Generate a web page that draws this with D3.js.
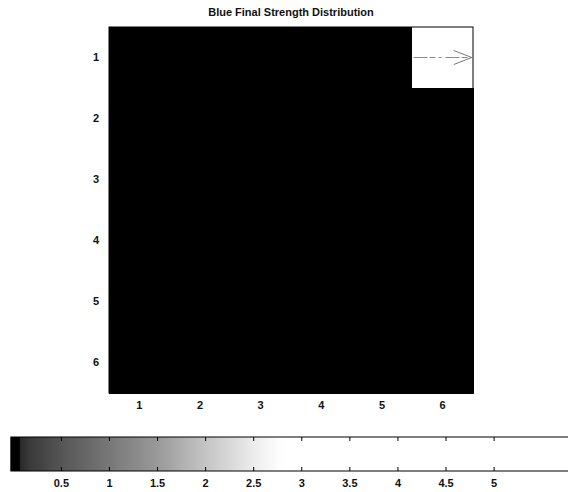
<!DOCTYPE html>
<html>
<head>
<meta charset="utf-8">
<script src="https://d3js.org/d3.v7.min.js"></script>
<style>
  body { margin: 0; background: #fff; }
  text { font-family: "Liberation Sans", Arial, sans-serif; font-weight: bold; fill: #111; }
</style>
</head>
<body>
<div id="canvas"></div>
<script>
// grid labels
var rows = [1, 2, 3, 4, 5, 6];
var cols = [1, 2, 3, 4, 5, 6];
// strength values per row (row 1 first), one per column
var row1 = [0, 0, 0, 0, 0, 5.8];
var row2 = [0, 0, 0, 0, 0, 0];
var row3 = [0, 0, 0, 0, 0, 0];
var row4 = [0, 0, 0, 0, 0, 0];
var row5 = [0, 0, 0, 0, 0, 0];
var row6 = [0, 0, 0, 0, 0, 0];
var values = [row1, row2, row3, row4, row5, row6];
// flow arrow in the strong cell: start and end (column, row)
var arrowFrom = [5.52, 1];
var arrowTo = [6.48, 1];
// colorbar ticks
var cbTicks = [0.5, 1, 1.5, 2, 2.5, 3, 3.5, 4, 4.5, 5];
var cbMin = -0.02, cbMax = 6;

var W = 568, H = 492;
var svg = d3.select("#canvas").append("svg")
    .attr("width", W).attr("height", H);

var x = d3.scaleBand().domain(cols).range([109, 473]);
var y = d3.scaleBand().domain(rows).range([27, 393]);
var xc = d3.scaleLinear().domain([0.5, 6.5]).range([109, 473]);
var yc = d3.scaleLinear().domain([0.5, 6.5]).range([27, 393]);

// gray map, saturates to white around 2.8 (as in the scan)
var color = d3.scaleLinear()
    .domain([0, 0.1, 0.5, 1, 1.5, 2, 2.5, 2.8, 6])
    .range(["#000", "#333", "#555", "#777", "#999", "#c4c4c4", "#ececec", "#fff", "#fff"])
    .clamp(true);

svg.append("text")
    .attr("x", 291).attr("y", 16)
    .attr("text-anchor", "middle")
    .style("font-size", "11px")
    .text("Blue Final Strength Distribution");

var cells = [];
values.forEach(function(r, i) {
    r.forEach(function(v, j) { cells.push({ row: rows[i], col: cols[j], v: v }); });
});

svg.append("g").attr("shape-rendering", "crispEdges").selectAll("rect")
    .data(cells).enter().append("rect")
    .attr("x", function(d) { return x(d.col); })
    .attr("y", function(d) { return y(d.row); })
    .attr("width", x.bandwidth() + 1)
    .attr("height", y.bandwidth() + 1)
    .attr("fill", function(d) { return color(d.v); });

svg.append("rect")
    .attr("x", 109).attr("y", 27).attr("width", 364).attr("height", 366)
    .attr("fill", "none").attr("stroke", "#000");

// arrow
var ax0 = xc(arrowFrom[0]), ay0 = yc(arrowFrom[1]);
var ax1 = xc(arrowTo[0]), ay1 = yc(arrowTo[1]);
svg.append("line")
    .attr("x1", ax0).attr("y1", ay0).attr("x2", ax1).attr("y2", ay1)
    .attr("stroke", "#8a8a8a").attr("stroke-width", 1)
    .attr("stroke-dasharray", "14,2,6,3,3,4");
svg.append("path")
    .attr("d", "M" + (ax1 - 18) + "," + (ay1 - 7) + "L" + ax1 + "," + ay1 + "L" + (ax1 - 18) + "," + (ay1 + 7))
    .attr("fill", "none").attr("stroke", "#777").attr("stroke-width", 1);

svg.append("g")
    .attr("transform", "translate(0,393)")
    .call(d3.axisBottom(x).tickSize(0).tickPadding(8))
    .call(function(g) { g.select(".domain").remove(); })
    .selectAll("text").style("font-size", "11px").style("font-family", "Liberation Sans, Arial");

svg.append("g")
    .attr("transform", "translate(109,0)")
    .call(d3.axisLeft(y).tickSize(0).tickPadding(10))
    .call(function(g) { g.select(".domain").remove(); })
    .selectAll("text").style("font-size", "11px").style("font-family", "Liberation Sans, Arial");

// colorbar
var cb = d3.scaleLinear().domain([0, 5]).range([12.8, 493.6]);
var cbTop = 437, cbH = 34;
var defs = svg.append("defs");
var grad = defs.append("linearGradient").attr("id", "cbgrad")
    .attr("x1", "0%").attr("x2", "100%");
d3.range(0, 61).forEach(function(i) {
    var v = cbMin + (cbMax - cbMin) * i / 60;
    grad.append("stop").attr("offset", (i / 60 * 100) + "%").attr("stop-color", color(v));
});
svg.append("rect")
    .attr("x", cb(cbMin)).attr("y", cbTop)
    .attr("width", cb(cbMax) - cb(cbMin)).attr("height", cbH)
    .attr("fill", "url(#cbgrad)");
svg.append("rect")
    .attr("x", cb(cbMin)).attr("y", cbTop)
    .attr("width", 9).attr("height", cbH)
    .attr("fill", "#000");
svg.append("rect")
    .attr("x", cb(cbMin)).attr("y", cbTop)
    .attr("width", cb(cbMax) - cb(cbMin)).attr("height", cbH)
    .attr("fill", "none").attr("stroke", "#000");

svg.append("g")
    .attr("transform", "translate(0," + (cbTop + cbH) + ")")
    .call(d3.axisBottom(cb).tickValues(cbTicks).tickSize(-4).tickPadding(8).tickFormat(d3.format("")))
    .call(function(g) { g.select(".domain").remove(); })
    .selectAll("text").style("font-size", "11px").style("font-family", "Liberation Sans, Arial");

svg.append("g")
    .attr("transform", "translate(0," + cbTop + ")")
    .call(d3.axisTop(cb).tickValues(cbTicks).tickSize(-4).tickFormat(""))
    .call(function(g) { g.select(".domain").remove(); });
</script>
</body>
</html>
